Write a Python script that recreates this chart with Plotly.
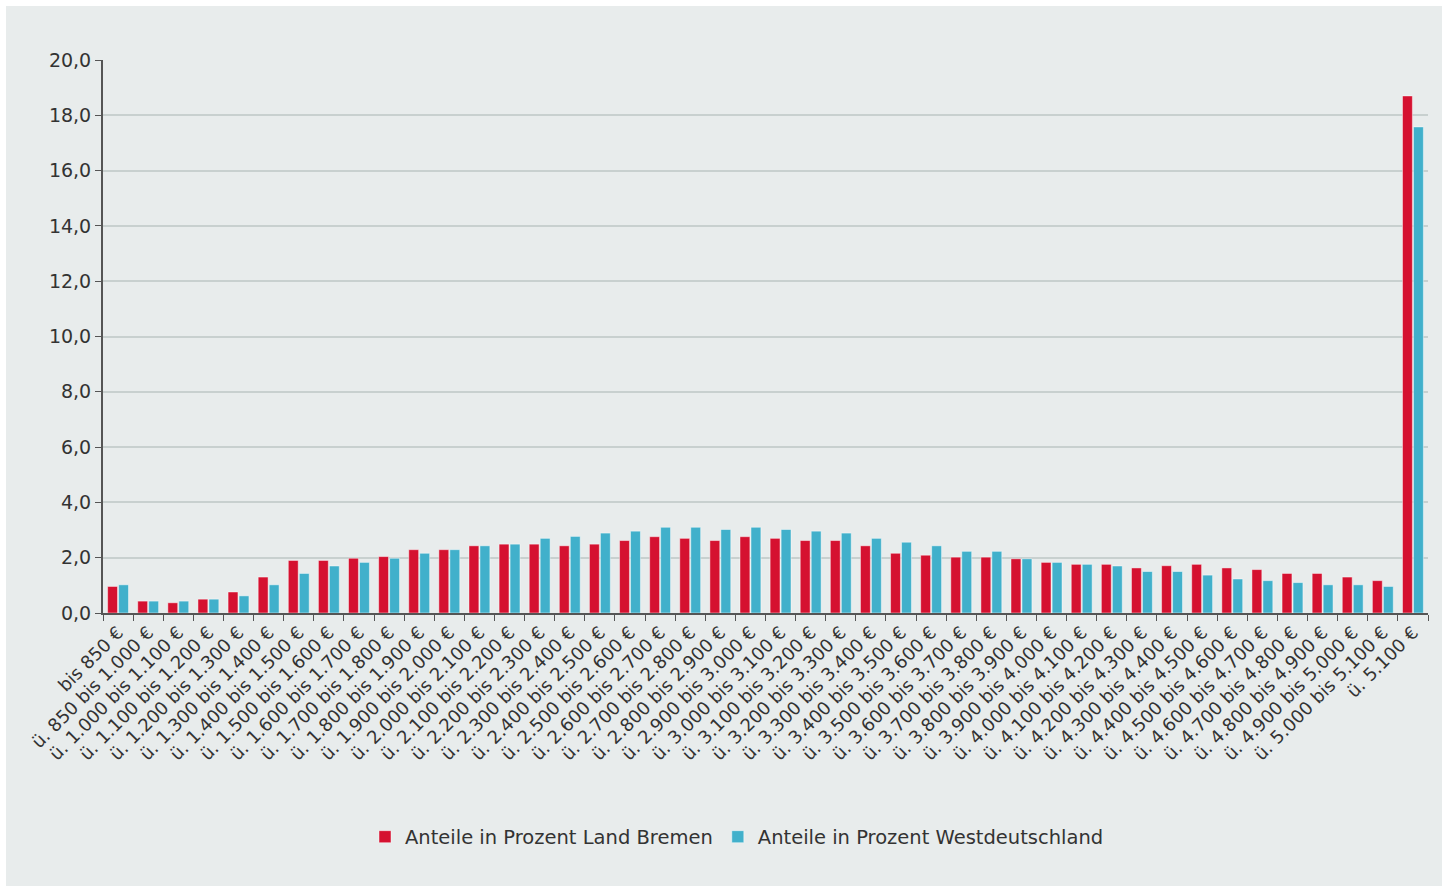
import plotly.graph_objects as go

categories = ["bis 850 €", "ü. 850 bis 1.000 €"] + [
    f"ü. {a // 1000}.{a % 1000:03d} bis {b // 1000}.{b % 1000:03d} €"
    for a, b in zip(range(1000, 5100, 100), range(1100, 5200, 100))
] + ["ü. 5.100 €"]

bremen = [0.96, 0.43, 0.37, 0.50, 0.76, 1.30, 1.90, 1.90, 1.98, 2.04,
          2.29, 2.29, 2.43, 2.49, 2.49, 2.43, 2.49, 2.62, 2.76, 2.70,
          2.62, 2.76, 2.70, 2.62, 2.62, 2.43, 2.16, 2.09, 2.02, 2.02,
          1.96, 1.83, 1.76, 1.76, 1.63, 1.71, 1.76, 1.63, 1.57, 1.43,
          1.43, 1.30, 1.17, 18.70]
west = [1.02, 0.43, 0.43, 0.50, 0.62, 1.02, 1.43, 1.70, 1.83, 1.98,
        2.16, 2.29, 2.43, 2.49, 2.70, 2.77, 2.89, 2.96, 3.10, 3.10,
        3.02, 3.10, 3.02, 2.96, 2.89, 2.70, 2.56, 2.43, 2.23, 2.23,
        1.96, 1.83, 1.76, 1.70, 1.50, 1.50, 1.37, 1.23, 1.17, 1.10,
        1.02, 1.02, 0.96, 17.58]

series_names = ["Anteile in Prozent Land Bremen", "Anteile in Prozent Westdeutschland"]
colors = ["#d51130", "#41b0cb"]
bg = "#e8ecec"
font_family = "DejaVu Sans, Verdana, sans-serif"

fig = go.Figure()
for name, vals, col in zip(series_names, [bremen, west], colors):
    fig.add_trace(go.Bar(
        x=categories, y=vals, name=name,
        marker=dict(color=col, line=dict(color="rgba(255,255,255,0.45)", width=1)),
    ))

W, H = 1448, 889
ml, mr, mt, mb = 103, 20, 60, 276
pw, ph = W - ml - mr, H - mt - mb

fig.add_shape(type="rect", xref="paper", yref="paper", layer="below",
              x0=(6 - ml) / pw, x1=(W - 6 - ml) / pw,
              y0=-(H - 3 - mt - ph) / ph, y1=1 + (mt - 6) / ph,
              fillcolor=bg, line=dict(width=0))

fig.update_layout(
    width=W, height=H,
    margin=dict(l=ml, r=mr, t=mt, b=mb),
    paper_bgcolor="white", plot_bgcolor=bg,
    separators=",.",
    barmode="group", bargap=0.27, bargroupgap=0.1,
    font=dict(family=font_family, size=18, color="#333333"),
    showlegend=True,
    legend=dict(orientation="h", x=(737 - ml) / pw, xanchor="center",
                y=-(837 - 613) / ph, yanchor="middle",
                font=dict(size=19.5, color="#333333"), bgcolor="rgba(0,0,0,0)",
                itemwidth=30, traceorder="normal"),
    xaxis=dict(type="category", tickangle=-45, tickson="boundaries",
               ticks="outside", ticklen=6, tickcolor="#555555",
               showline=True, linecolor="#555555", linewidth=2,
               showgrid=False, tickfont=dict(size=18, color="#333333")),
    yaxis=dict(range=[0, 20], dtick=2, tickformat=".1f",
               ticks="outside", ticklen=6, tickcolor="#555555",
               showline=True, linecolor="#555555", linewidth=2,
               showgrid=True, gridcolor="#c8d0cf", gridwidth=1.5,
               zeroline=False, tickfont=dict(size=19, color="#333333")),
)

fig.write_html("out.html")
